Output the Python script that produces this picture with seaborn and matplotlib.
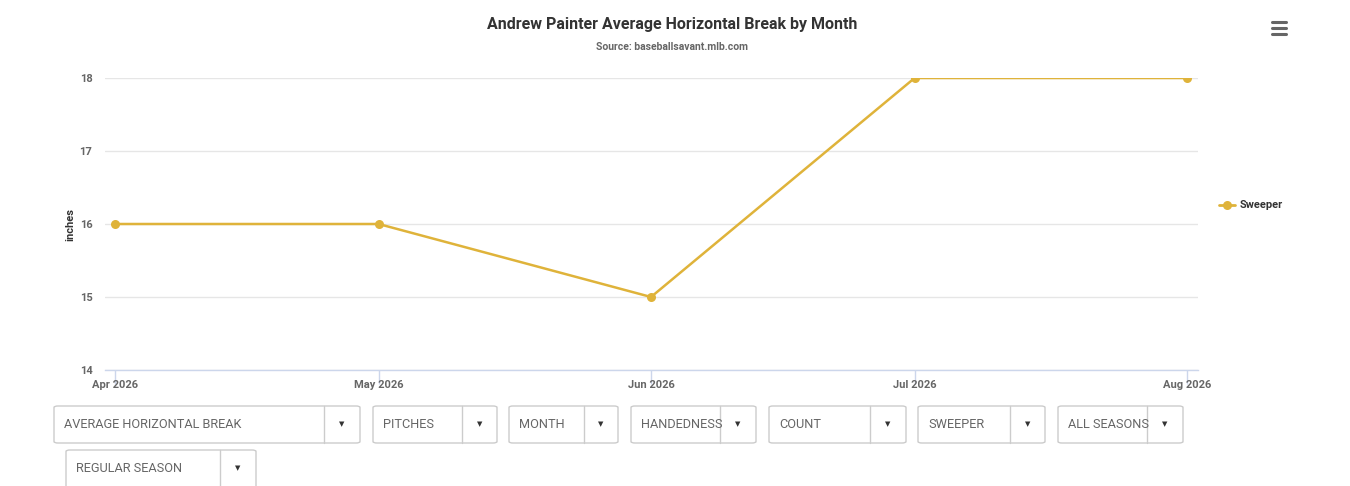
import matplotlib
matplotlib.use("Agg")
import matplotlib.pyplot as plt
from matplotlib.patches import FancyBboxPatch
import seaborn as sns
import pandas as pd

# ---- data ----
months = ["2026-04-01", "2026-05-01", "2026-06-01", "2026-07-01", "2026-08-01"]
sweeper = [16, 16, 15, 18, 18]
series_name = "Sweeper"
tick_labels = ["Apr 2026", "May 2026", "Jun 2026", "Jul 2026", "Aug 2026"]
y_ticks = [14, 15, 16, 17, 18]
title = "Andrew Painter Average Horizontal Break by Month"
subtitle = "Source: baseballsavant.mlb.com"
y_label = "inches"
dropdown_labels = ["AVERAGE HORIZONTAL BREAK", "PITCHES", "MONTH", "HANDEDNESS",
                   "COUNT", "SWEEPER", "ALL SEASONS", "REGULAR SEASON"]

# layout (pixels): left, right, divider, top, bottom
dropdown_boxes = [(54, 360, 324, 406, 443), (373, 497, 462, 406, 443),
                  (509, 618, 584, 406, 443), (631, 756, 720, 406, 443),
                  (769, 906, 870, 406, 443), (918, 1045, 1010, 406, 443),
                  (1058, 1183, 1147, 406, 443), (66, 256, 220, 450, 492)]

sns.set_theme(style="white")
FONT = ["Roboto", "DejaVu Sans"]
plt.rcParams["font.family"] = FONT

W, H = 1350, 486
fig = plt.figure(figsize=(W / 100, H / 100), dpi=100)
fig.patch.set_facecolor("white")

def fx(x):
    return x / W

def fy(y):
    return 1 - y / H

ax = fig.add_axes([fx(105), fy(370), fx(1198) - fx(105), fy(78) - fy(370)])

df = pd.DataFrame({"month": pd.to_datetime(months), "value": sweeper, "series": series_name})
color = "#dfb33a"
sns.lineplot(data=df, x="month", y="value", hue="series", palette=[color], ax=ax,
             marker="o", markersize=6.5, markeredgewidth=0, linewidth=1.8, legend=False)

dates = pd.to_datetime(months)
ax.set_xlim(dates[0] - pd.Timedelta(days=1.14), dates[-1] + pd.Timedelta(days=1.25))
ax.set_ylim(14, 18)
ax.set_yticks(y_ticks)
ax.set_yticklabels([str(v) for v in y_ticks])
ax.set_xticks(dates)
ax.set_xticklabels(tick_labels)
ax.grid(axis="y", color="#e6e6e6", linewidth=1)
ax.set_axisbelow(True)
for s in ["top", "right", "left"]:
    ax.spines[s].set_visible(False)
ax.spines["bottom"].set_color("#ccd6eb")
ax.spines["bottom"].set_linewidth(1)
ax.tick_params(axis="x", bottom=True, length=10, width=1, color="#ccd6eb", direction="out",
               pad=-3, labelsize=8, labelcolor="#666666")
ax.tick_params(axis="y", left=False, length=0, pad=9, labelsize=8, labelcolor="#666666")
for lbl in ax.get_xticklabels() + ax.get_yticklabels():
    lbl.set_fontweight("bold")
ax.set_xlabel("")
ax.set_ylabel(y_label, fontsize=8, fontweight="bold", color="#333333", labelpad=3)

# title / subtitle
fig.text(fx(672), fy(24), title, ha="center", va="center", fontsize=11.5,
         fontweight="bold", color="#333333")
fig.text(fx(672), fy(47), subtitle, ha="center", va="center", fontsize=7.5,
         fontweight="bold", color="#666666")

# legend
fig.lines.append(plt.Line2D([fx(1219), fx(1235)], [fy(205), fy(205)], transform=fig.transFigure,
                            color=color, linewidth=2, marker=None))
fig.lines.append(plt.Line2D([fx(1227)], [fy(205)], transform=fig.transFigure,
                            color=color, marker="o", markersize=6.5, markeredgewidth=0))
fig.text(fx(1240), fy(205), series_name, ha="left", va="center", fontsize=8,
         fontweight="bold", color="#333333")

# hamburger icon
for yy in (22, 28, 34):
    fig.lines.append(plt.Line2D([fx(1272), fx(1286)], [fy(yy), fy(yy)], transform=fig.transFigure,
                                color="#666666", linewidth=2.2, solid_capstyle="round"))

# dropdowns
for label, (l, r, d, t, b) in zip(dropdown_labels, dropdown_boxes):
    box = FancyBboxPatch((fx(l), fy(b)), fx(r - l), fy(t) - fy(b),
                         boxstyle="round,pad=0,rounding_size=0.003",
                         transform=fig.transFigure, facecolor="white",
                         edgecolor="#cccccc", linewidth=1, clip_on=False)
    fig.patches.append(box)
    fig.lines.append(plt.Line2D([fx(d), fx(d)], [fy(t), fy(b)], transform=fig.transFigure,
                                color="#cccccc", linewidth=1))
    fig.text(fx(l + 10), fy(424 if t == 406 else 468), label, ha="left", va="center",
             fontsize=9.2, color="#666666")
    fig.text(fx((d + r) / 2), fy(424 if t == 406 else 468), "\u25bc", ha="center",
             va="center", fontsize=5, color="#333333", family=["DejaVu Sans"])

fig.savefig("out.png", dpi=100, facecolor="white")
